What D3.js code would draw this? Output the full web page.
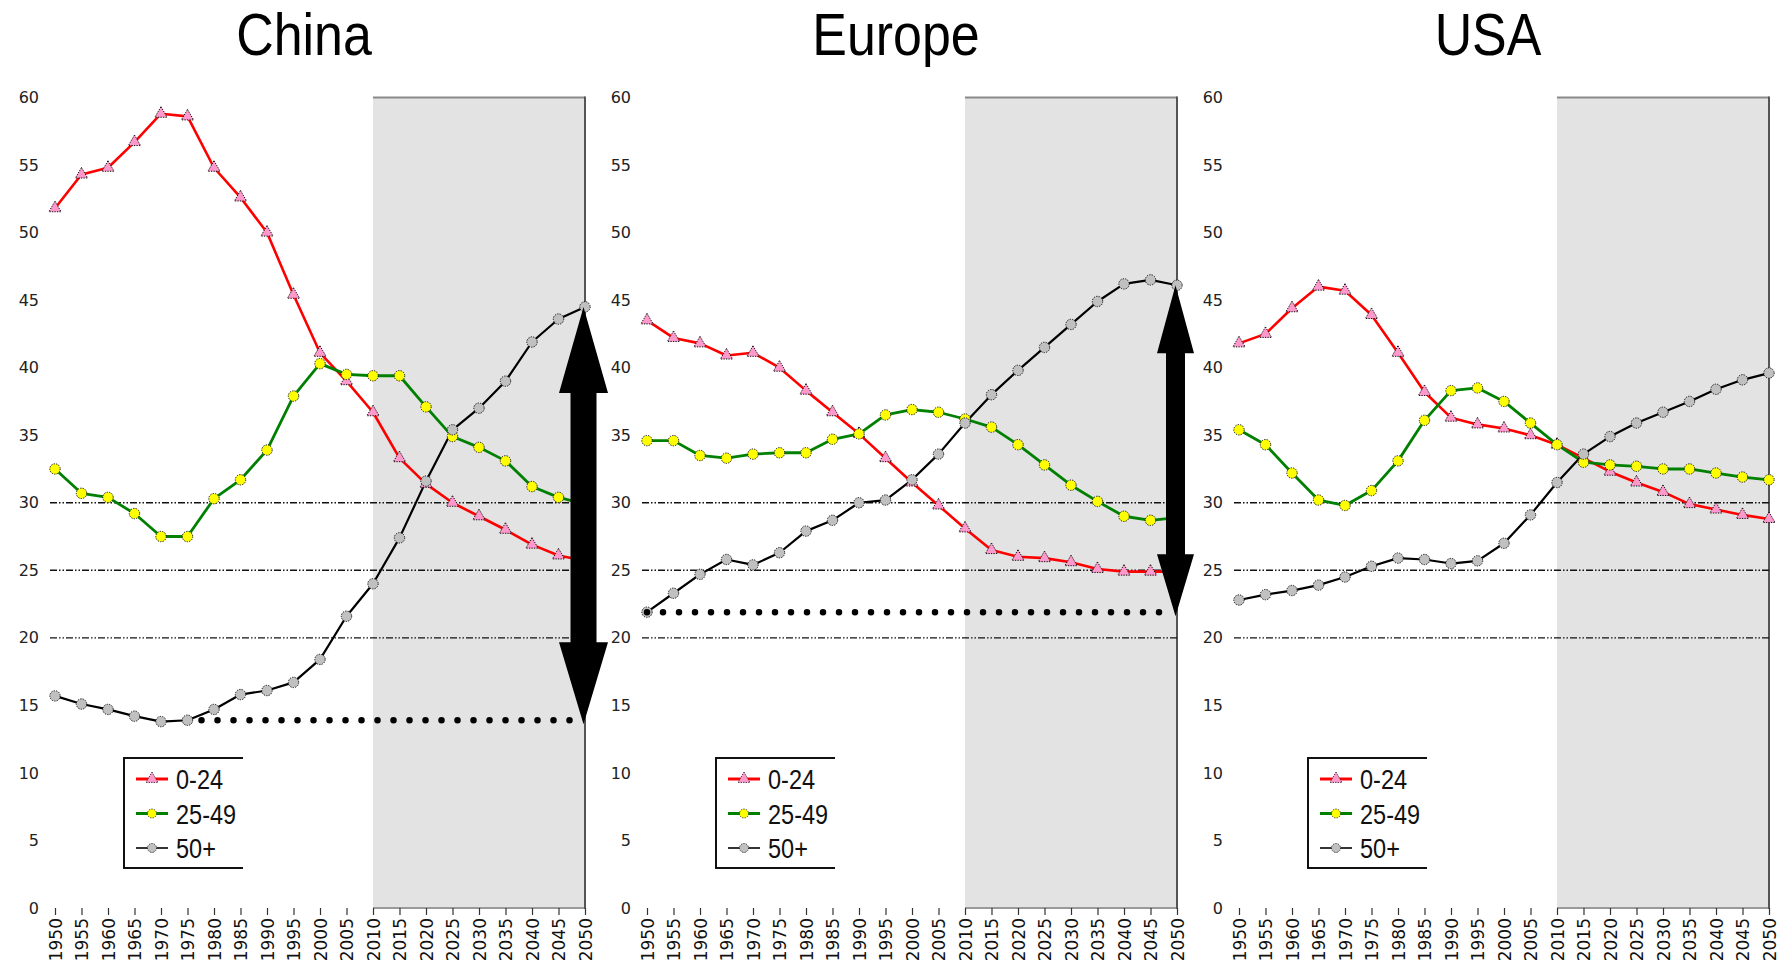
<!DOCTYPE html>
<html><head><meta charset="utf-8">
<script src="https://cdn.jsdelivr.net/npm/d3@7"></script>
<style>body{margin:0;background:#fff;}svg{display:block}</style>
</head><body>
<svg id="c" width="1778" height="967"></svg>
<script>
// ---------- data ----------
const years = [1950,1955,1960,1965,1970,1975,1980,1985,1990,1995,2000,2005,2010,2015,2020,2025,2030,2035,2040,2045,2050];
const yTicks = [0,5,10,15,20,25,30,35,40,45,50,55,60];
const regions = ["China","Europe","USA"];
const seriesNames = ["0-24","25-49","50+"];

const china_0_24  = [51.8,54.3,54.8,56.7,58.8,58.6,54.8,52.6,50.0,45.4,41.1,39.0,36.7,33.3,31.4,30.0,29.0,28.0,26.9,26.1,25.7];
const china_25_49 = [32.5,30.7,30.4,29.2,27.5,27.5,30.3,31.7,33.9,37.9,40.3,39.5,39.4,39.4,37.1,34.9,34.1,33.1,31.2,30.4,29.9];
const china_50p   = [15.7,15.1,14.7,14.2,13.8,13.9,14.7,15.8,16.1,16.7,18.4,21.6,24.0,27.4,31.6,35.4,37.0,39.0,41.9,43.6,44.5];

const europe_0_24  = [43.5,42.2,41.8,40.9,41.1,40.0,38.3,36.7,35.1,33.3,31.5,29.8,28.1,26.5,26.0,25.9,25.6,25.1,24.9,24.9,24.9];
const europe_25_49 = [34.6,34.6,33.5,33.3,33.6,33.7,33.7,34.7,35.1,36.5,36.9,36.7,36.2,35.6,34.3,32.8,31.3,30.1,29.0,28.7,28.9];
const europe_50p   = [21.9,23.3,24.7,25.8,25.4,26.3,27.9,28.7,30.0,30.2,31.7,33.6,35.9,38.0,39.8,41.5,43.2,44.9,46.2,46.5,46.1];

const usa_0_24  = [41.8,42.5,44.4,46.0,45.7,43.9,41.1,38.2,36.3,35.8,35.5,35.0,34.3,33.3,32.3,31.5,30.8,29.9,29.5,29.1,28.8];
const usa_25_49 = [35.4,34.3,32.2,30.2,29.8,30.9,33.1,36.1,38.3,38.5,37.5,35.9,34.3,33.0,32.8,32.7,32.5,32.5,32.2,31.9,31.7];
const usa_50p   = [22.8,23.2,23.5,23.9,24.5,25.3,25.9,25.8,25.5,25.7,27.0,29.1,31.5,33.6,34.9,35.9,36.7,37.5,38.4,39.1,39.6];

const gridValues = [20,25,30];
const projectionStart = 2010;
// annotation values: [dotted line start year, level value, arrow top value]
const chinaAnnot  = [1975, 13.9, 44.5];
const europeAnnot = [1950, 21.9, 46.1];

// ---------- layout ----------
const svg = d3.select("#c");
const panels = [
  {name: regions[0], ox: 55,   series: [china_0_24, china_25_49, china_50p],   annot: chinaAnnot,  dotOff: 14, arrow:{hw:24.5, sw:13, topLen:86, botLen:82}},
  {name: regions[1], ox: 647,  series: [europe_0_24, europe_25_49, europe_50p], annot: europeAnnot, dotOff: 0,  arrow:{hw:18.5, sw:9.5, topLen:68, botLen:62}},
  {name: regions[2], ox: 1239, series: [usa_0_24, usa_25_49, usa_50p],         annot: null}
];
const lineColors = ["#ff0000","#008000","#000000"];
const lineWidths = [2.6,2.8,2.2];
const markerFill = ["#ff99cc","#ffff00","#c0c0c0"];
const plotW = 530, yTop = 97.5, yBot = 908;
const sansFont = "'Liberation Sans',Arial,sans-serif";

panels.forEach(p => {
  const x = d3.scaleLinear().domain([1950,2050]).range([p.ox, p.ox + plotW]);
  const y = d3.scaleLinear().domain([0,60]).range([yBot, yTop]);
  const g = svg.append("g");

  // title
  g.append("text")
    .attr("transform", `translate(${p.ox + 249},55) scale(0.88,1.02)`)
    .attr("text-anchor","middle")
    .style("font-family",sansFont)
    .style("font-size","59px").attr("fill","#000").text(p.name);

  // projection shading
  const x0 = x(projectionStart), x1 = x(2050);
  g.append("rect").attr("x",x0).attr("y",y(60)).attr("width",x1-x0).attr("height",y(0)-y(60)).attr("fill","#e3e3e3");
  g.append("line").attr("x1",x0).attr("x2",x1).attr("y1",y(60)).attr("y2",y(60)).attr("stroke","#8a8a8a").attr("stroke-width",2);
  g.append("line").attr("x1",x0).attr("x2",x1).attr("y1",y(0)).attr("y2",y(0)).attr("stroke","#9a9a9a").attr("stroke-width",2);
  g.append("line").attr("x1",x1).attr("x2",x1).attr("y1",y(60)-1).attr("y2",y(0)+1).attr("stroke","#555").attr("stroke-width",2);

  // grid
  g.selectAll(".grid").data(gridValues).enter().append("line")
    .attr("x1",p.ox-5).attr("x2",x1).attr("y1",d=>y(d)).attr("y2",d=>y(d))
    .attr("stroke","#111").attr("stroke-width",1.4).attr("stroke-dasharray","7,2,1.5,2,1.5,2");

  // y axis
  const ya = g.append("g").attr("transform",`translate(${p.ox},0)`)
    .call(d3.axisLeft(y).tickValues(yTicks).tickSize(0).tickPadding(16));
  ya.select(".domain").remove();
  ya.selectAll("text").style("font-family","'DejaVu Sans',sans-serif").style("font-size","16px").attr("fill","#222");

  // x axis
  const xa = g.append("g").attr("transform",`translate(0,${yBot})`)
    .call(d3.axisBottom(x).tickValues(years).tickSize(7).tickFormat(d3.format("d")));
  xa.select(".domain").remove();
  xa.selectAll("line").attr("stroke","#333").attr("stroke-width",1.2);
  xa.selectAll("text")
    .attr("transform","translate(0,10) rotate(-90)")
    .attr("x",0).attr("y",0).attr("dy","0.36em")
    .attr("text-anchor","end")
    .style("font-family","'DejaVu Sans',sans-serif").style("font-size","17px").attr("fill","#111");

  // lines
  p.series.forEach((vals,i) => {
    const pts = years.map((yr,j)=>[yr, vals[j]]);
    g.append("path").datum(pts)
      .attr("d", d3.line().x(d=>x(d[0])).y(d=>y(d[1])))
      .attr("fill","none").attr("stroke",lineColors[i]).attr("stroke-width",lineWidths[i]).attr("stroke-linejoin","round");
  });
  // markers
  p.series.forEach((vals,i) => {
    const pts = years.map((yr,j)=>[yr, vals[j]]);
    const sel = g.selectAll(null).data(pts).enter();
    if (i === 0) {
      sel.append("path").attr("d", d3.symbol().type(d3.symbolTriangle).size(64))
        .attr("transform", d=>`translate(${x(d[0])},${y(d[1])})`)
        .attr("fill",markerFill[i]).attr("stroke","#111").attr("stroke-width",1).attr("stroke-dasharray","1.3,1.2");
    } else {
      sel.append("circle").attr("cx",d=>x(d[0])).attr("cy",d=>y(d[1])).attr("r",5.2)
        .attr("fill",markerFill[i]).attr("stroke","#111").attr("stroke-width",1).attr("stroke-dasharray","1.3,1.2");
    }
  });

  // annotation: dotted level line and double arrow
  if (p.annot) {
    const [startYr, lvl, topV] = p.annot;
    g.append("line").attr("x1",x(startYr)+p.dotOff).attr("x2",x(2050)-8).attr("y1",y(lvl)).attr("y2",y(lvl))
      .attr("stroke","#000").attr("stroke-width",6.5).attr("stroke-linecap","round").attr("stroke-dasharray","0,16");
    const a = p.arrow, cx = x(2050) - 1.5, yt = y(topV), yb = y(lvl) + 4;
    const path = d3.path();
    path.moveTo(cx, yt);
    path.lineTo(cx + a.hw, yt + a.topLen);
    path.lineTo(cx + a.sw, yt + a.topLen);
    path.lineTo(cx + a.sw, yb - a.botLen);
    path.lineTo(cx + a.hw, yb - a.botLen);
    path.lineTo(cx, yb);
    path.lineTo(cx - a.hw, yb - a.botLen);
    path.lineTo(cx - a.sw, yb - a.botLen);
    path.lineTo(cx - a.sw, yt + a.topLen);
    path.lineTo(cx - a.hw, yt + a.topLen);
    path.closePath();
    g.append("path").attr("d", path.toString()).attr("fill","#000");
  }

  // legend
  const lx = p.ox + 69, lr = p.ox + 188, lt = 758, lb = 868;
  g.append("path").attr("d",`M${lr},${lt}H${lx}V${lb}H${lr}`).attr("fill","none").attr("stroke","#111").attr("stroke-width",2);
  seriesNames.forEach((nm,i) => {
    const cy = 779 + i*34.5;
    g.append("line").attr("x1",p.ox+81).attr("x2",p.ox+113).attr("y1",cy).attr("y2",cy)
      .attr("stroke",lineColors[i]).attr("stroke-width", i===2 ? 1.6 : 3);
    if (i === 0) {
      g.append("path").attr("d", d3.symbol().type(d3.symbolTriangle).size(62))
        .attr("transform",`translate(${p.ox+97},${cy})`)
        .attr("fill",markerFill[i]).attr("stroke","#111").attr("stroke-width",0.8).attr("stroke-dasharray","1.3,1.2");
    } else {
      g.append("circle").attr("cx",p.ox+97).attr("cy",cy).attr("r",4.5)
        .attr("fill",markerFill[i]).attr("stroke","#111").attr("stroke-width",0.8).attr("stroke-dasharray","1.3,1.2");
    }
    g.append("text").attr("transform",`translate(${p.ox+121},${cy+10}) scale(0.84,1)`)
      .style("font-family",sansFont)
      .style("font-size","28px").attr("fill","#111").text(nm);
  });
});
</script>
</body></html>
